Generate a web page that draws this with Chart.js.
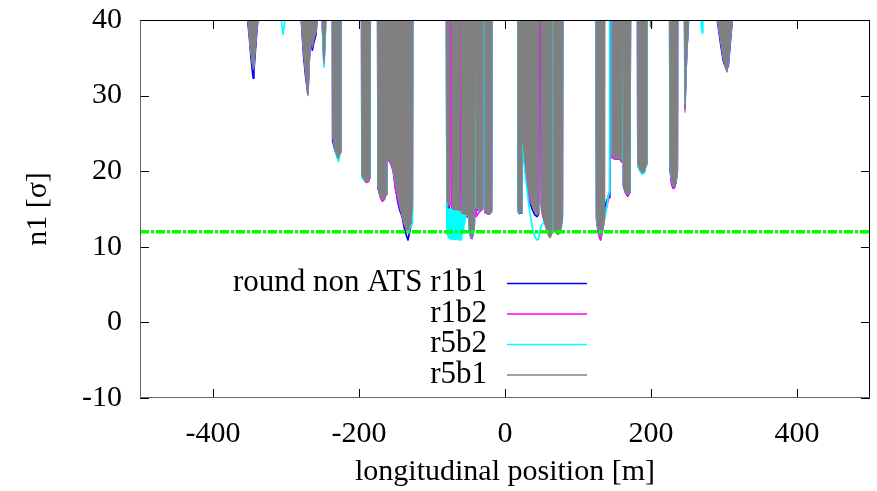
<!DOCTYPE html>
<html>
<head>
<meta charset="utf-8">
<script src="https://cdn.jsdelivr.net/npm/chart.js@4.4.1/dist/chart.umd.min.js"></script>
<style>
  html, body { margin: 0; padding: 0; background: #fff; }
  #wrap { width: 877px; height: 491px; }
</style>
</head>
<body>
<div id="wrap"><canvas id="chart" width="877" height="491"></canvas></div>
<script>
const xTicks = [-400, -200, 0, 200, 400];
const yTicks = [-10, 0, 10, 20, 30, 40];
const seriesNames = ['round non ATS r1b1', 'r1b2', 'r5b2', 'r5b1'];
const seriesColors = ['#0000ff', '#ff00ff', '#00ffff', '#808080'];
const limitLevel = 12;

// longitudinal position [m]; n1 values of 80 sit above the frame
const pos = [
  -356,
  -353, -350, -348, -346, -345, -344, -342, -340, -338, -336,
  -307, -306, -304, -302, -301,
  -281, -279, -276, -273, -270, -268, -266, -264, -262, -259, -257, -255,
  -251, -250, -248, -246, -245,
  -237, -236, -233, -230, -228, -226, -225,
  -197, -196, -193, -190, -187, -185, -184,
  -175, -174, -171, -168, -165, -163, -162, -158, -155, -153, -150, -147, -144, -141, -138, -135, -133, -131, -129, -127, -126,
  -81, -79.5, -78.5, -77.5, -76.5, -75.5, -74.5, -73.5, -72.5, -71.5,
  -70.5, -69.5, -68.5, -67.5, -66.5, -65.5, -64.5, -63.5, -62.5, -61.5,
  -60.5, -59.5, -58.5, -57.5, -56.5, -55.5, -54, -52, -51, -50.5,
  -49.5, -48, -46.5, -45, -43.5, -42, -41, -40, -39.5, -36,
  -33, -30.5, -29.5, -28, -27, -24, -21, -18.5, -17.5,
  17, 18, 20, 22, 23, 26, 29, 32, 35, 38, 41, 44, 46, 47.5, 48.5, 50, 52, 55, 58, 60, 62, 64, 65, 66.5, 67, 70, 73, 75, 77, 78.5, 79.5,
  124, 125.5, 127.5, 129.5, 131, 133, 135, 136.5, 137.5, 139, 141, 142.5, 143.5, 144.5,
  146.5, 147, 150, 154, 157, 160, 160.8, 161.6, 162.4, 165, 168, 171, 173,
  181, 182, 185, 188, 191, 193.5, 194.5,
  198, 199, 201, 202,
  225, 226, 228, 230, 232, 234, 236, 237,
  245, 246.5, 247.5, 249, 251, 253,
  268, 269, 270, 271, 272,
  288, 290, 293, 296, 299, 302, 304, 306, 308, 310, 312, 314,
  330
];

const r5b1 = [
  80,
  41, 38, 35.8, 34.2, 33.5, 34.2, 36.5, 39, 41, 80,
  80, 80, 80, 80, 80,
  80, 40.5, 36, 33, 30, 35, 38, 36.4, 37.5, 38.3, 41, 80,
  80, 39, 34.2, 39, 80,
  80, 25, 23, 22, 21.7, 22.5, 80,
  80, 19.5, 18.9, 18.6, 18.7, 19.2, 80,
  80, 18, 16.8, 16.2, 16.4, 17, 21.7, 21.5, 20.8, 20.3, 18.5, 17, 15.5, 14.2, 13, 12.3, 12, 12.5, 13.5, 15, 80,
  80, 16, 15.8, 15.7, 15.6, 15.6, 80, 80, 15.2, 15,
  14.9, 14.9, 14.9, 14.9, 14.9, 14.9, 14.9, 14.8, 14.8, 80,
  80, 14.5, 14.4, 14.4, 14.4, 14.4, 14.3, 14.2, 80, 80,
  13, 12, 11.4, 11.2, 11.6, 12.5, 80, 80, 15, 14.9,
  14.9, 15, 80, 80, 14.6, 14.4, 14.4, 14.6, 80,
  80, 14.8, 14.5, 14.6, 26, 22.5, 19.8, 17.8, 16.4, 15.3, 14.6, 14.2, 14.4, 80, 80, 15, 14, 13, 12, 11.4, 11.2, 11.8, 80, 80, 12.2, 11.8, 11.6, 11.8, 12.5, 13.5, 80,
  80, 14, 12.5, 11.6, 11.3, 11.8, 12.8, 13.8, 80, 80, 80, 80, 80, 80,
  80, 22, 21.7, 21.7, 21.7, 21.3, 80, 80, 18, 17.3, 16.9, 17.2, 80,
  80, 21, 20.2, 19.8, 20, 21, 80,
  80, 39.2, 39, 80,
  80, 21, 19, 18.1, 17.9, 18.5, 20, 80,
  80, 27.8, 32, 36, 39, 80,
  80, 80, 80, 80, 80,
  80, 41, 39, 37, 35, 33.8, 33.1, 34.5, 37, 39, 41, 80,
  80
];

const r5b2 = [
  80,
  41.5, 38.3, 36, 34.5, 34, 34.5, 37, 39.5, 41, 80,
  80, 39.6, 38.1, 39.6, 80,
  80, 41, 36.5, 33.5, 30.6, 35.5, 38.5, 37, 38, 38.8, 41, 80,
  80, 38.8, 33.8, 38.8, 80,
  80, 25.5, 23, 21.8, 21.3, 22.5, 80,
  80, 19.2, 18.8, 18.7, 18.9, 19.4, 80,
  80, 18.2, 16.9, 16.4, 16.6, 17.2, 21.8, 21.6, 21, 20.5, 18.6, 17.2, 15.8, 14.5, 13.2, 12.5, 12.2, 12.3, 12.8, 13, 80,
  80, 11.6, 15, 11.2, 15, 11.1, 15, 11, 15, 11,
  14.9, 11, 14.9, 11, 14.9, 11, 14.9, 10.9, 14.8, 10.9,
  14.4, 11, 14.4, 11.8, 14.4, 13, 14.2, 14.2, 80, 80,
  12.2, 11.5, 11.3, 11.4, 11.8, 12.6, 80, 80, 15.2, 15,
  15, 15.2, 80, 80, 14.8, 14.6, 14.6, 14.8, 80,
  80, 14.6, 14.5, 14.6, 25.8, 21.5, 18.5, 16, 14, 12.3, 11.3, 10.9, 11, 12, 12.4, 12.8, 13.1, 13.4, 12.4, 11.8, 11.6, 12, 80, 80, 12.4, 12, 11.8, 12, 12.6, 13.5, 80,
  80, 14, 12.5, 11.7, 11.4, 12, 13, 14, 14.2, 15, 16.5, 17.2, 80, 80,
  80, 22.2, 21.8, 21.8, 21.8, 21.5, 80, 80, 18.2, 17.4, 17, 17.4, 80,
  80, 20.8, 20, 19.6, 19.8, 20.8, 80,
  80, 80, 80, 80,
  80, 21, 19.2, 18.3, 18.1, 18.7, 20.2, 80,
  80, 29, 32.5, 36.5, 39.5, 80,
  80, 39.2, 38.3, 39.2, 80,
  80, 41, 39.2, 37.2, 35.3, 34, 33.5, 34.7, 37.2, 39.2, 41, 80,
  80
];

const r1b2 = [
  80,
  41, 38, 35.8, 34.2, 33.8, 34.3, 36.5, 39, 41, 80,
  80, 80, 80, 80, 80,
  80, 40.5, 36, 33, 30.2, 35, 38, 36.5, 37.5, 38.5, 41, 80,
  80, 39, 34.4, 39, 80,
  80, 24.5, 23, 22, 21.8, 22.5, 80,
  80, 19.3, 18.9, 18.5, 18.6, 19.2, 80,
  80, 17.9, 16.6, 16, 16.3, 17, 21.5, 21.3, 20.6, 20, 17.6, 16.4, 15.2, 14.2, 13, 12.3, 12, 12.5, 13.5, 15, 80,
  80, 15.8, 15.6, 15.6, 15.5, 15.4, 80, 80, 15.2, 15,
  14.9, 14.9, 14.9, 14.9, 14.9, 14.9, 14.9, 14.8, 14.8, 80,
  80, 14.4, 14.4, 14.4, 14.3, 14.2, 14.2, 14, 80, 80,
  12.8, 11.6, 11.2, 11.1, 12, 13.5, 80, 80, 14, 14.5,
  14.8, 15, 80, 80, 14.6, 14.4, 14.4, 14.6, 80,
  80, 14.8, 14.5, 14.6, 25.5, 21.5, 19, 16.8, 15.8, 15.8, 15.4, 15.6, 15.9, 80, 80, 15, 14, 13, 12, 11.6, 11.4, 11.8, 80, 80, 12.6, 12.2, 12.4, 12.8, 13.2, 14, 80,
  80, 13.5, 12, 11.2, 10.9, 11.8, 13, 14, 14.5, 15.2, 16, 17, 80, 80,
  80, 21.8, 21.6, 21.6, 21.6, 21.2, 80, 80, 18, 17.2, 16.8, 17.2, 80,
  80, 20.8, 20.1, 19.8, 20, 21, 80,
  80, 80, 80, 80,
  80, 20.8, 18.6, 17.8, 17.9, 18.5, 20, 80,
  80, 28.2, 32, 36, 39, 80,
  80, 80, 80, 80, 80,
  80, 41, 39, 37, 35, 33.9, 33.3, 34.5, 37, 39, 41, 80,
  80
];

const r1b1 = [
  80,
  40.5, 37.5, 35, 33.2, 32.3, 33.2, 35.8, 38.5, 40.5, 80,
  80, 80, 80, 80, 80,
  80, 40, 35.3, 32.4, 30.3, 35, 37.8, 36, 37, 38, 41, 80,
  80, 39, 34.4, 39, 80,
  80, 24, 22.8, 22, 21.8, 22.5, 80,
  80, 19.4, 18.9, 18.6, 18.8, 19.2, 80,
  80, 17.8, 16.8, 16.3, 16.5, 17, 21.7, 21.5, 20.8, 20, 17.8, 16, 14.8, 14, 12.5, 11.5, 10.9, 11.8, 12.8, 14, 80,
  80, 15.6, 12.5, 15, 15, 15, 80, 80, 15, 14.8,
  14.8, 14.7, 14.7, 14.7, 14.7, 14.7, 14.7, 14.7, 14.7, 80,
  80, 14.4, 14.3, 14.3, 14.3, 14.3, 14.2, 14, 80, 80,
  12.5, 11.5, 11.2, 11.4, 12, 13, 80, 80, 14.8, 14.9,
  15, 15.2, 80, 80, 14.5, 14.4, 14.4, 14.8, 80,
  80, 14.6, 14.4, 14.5, 25.5, 22, 19.2, 17, 15.6, 14.8, 14.2, 14, 14.3, 80, 80, 15.5, 14.5, 13.5, 12.3, 11.8, 11.6, 12, 80, 80, 12.6, 12, 11.9, 12.2, 13, 14, 80,
  80, 13.8, 12.3, 11.5, 11.3, 12, 13.5, 15, 15.6, 16, 16.5, 17, 16.5, 80,
  80, 21.8, 21.7, 21.7, 21.7, 21.3, 80, 80, 18, 17.2, 16.7, 17.2, 80,
  80, 20.8, 20.1, 19.8, 20, 21, 80,
  80, 80, 80, 80,
  80, 20.5, 18.5, 17.8, 17.8, 18.5, 20, 80,
  80, 28.5, 32, 36, 39, 80,
  80, 80, 80, 80, 80,
  80, 40.5, 38.5, 36.4, 34.6, 33.8, 33.6, 34, 36.3, 38.6, 40.5, 80,
  80
];

const serif = "'Liberation Serif', 'DejaVu Serif', serif";
const toPoints = vals => pos.map((x, i) => ({x: x, y: vals[i]}));

const frame = {
    id: 'frame',
    afterDraw(chart) {
        const {ctx, chartArea: a, scales} = chart;
        const x = scales.x, y = scales.y;
        const seg = (x1, y1, x2, y2) => { ctx.beginPath(); ctx.moveTo(x1, y1); ctx.lineTo(x2, y2); ctx.stroke(); };
        ctx.save();
        ctx.lineWidth = 1;
        ctx.strokeStyle = '#000';
        // inward ticks on all four sides
        xTicks.forEach(v => {
            const px = Math.round(x.getPixelForValue(v)) + 0.5;
            seg(px, a.bottom, px, a.bottom - 9);
            seg(px, a.top, px, a.top + 9);
        });
        yTicks.forEach(v => {
            const py = Math.round(y.getPixelForValue(v)) + 0.5;
            seg(a.left, py, a.left + 9, py);
            seg(a.right, py, a.right - 9, py);
        });
        // border
        const l = Math.round(a.left) + 0.5, r = Math.round(a.right) - 0.5;
        const t = Math.round(a.top) + 0.5, b = Math.round(a.bottom) - 0.5;
        seg(l, t, r, t);
        seg(r, t, r, b);
        ctx.strokeStyle = '#666';
        seg(l, t, l, b);
        seg(l, b, r, b);
        // legend
        ctx.font = '31px ' + serif;
        ctx.fillStyle = '#000';
        ctx.textAlign = 'right';
        ctx.textBaseline = 'middle';
        seriesNames.forEach((name, i) => {
            const ry = 283 + i * 30.5;
            ctx.fillText(name, 487, ry);
            ctx.strokeStyle = seriesColors[i];
            ctx.lineWidth = 1.6;
            seg(507, ry + 0.5, 587, ry + 0.5);
        });
        ctx.restore();
    }
};

const lineSet = (label, vals, color, width, order, fill) => ({
    label: label,
    data: toPoints(vals),
    borderColor: color,
    backgroundColor: color,
    borderWidth: width,
    borderJoinStyle: 'round',
    pointRadius: 0,
    tension: 0,
    fill: fill ? 'end' : false,
    clip: 0,
    order: order
});

new Chart(document.getElementById('chart'), {
    type: 'line',
    data: {
        datasets: [
            {
                label: 'limit',
                data: [{x: -500, y: limitLevel}, {x: 500, y: limitLevel}],
                borderColor: '#00ff00',
                borderWidth: 3.5,
                borderDash: [9, 2, 3, 2],
                pointRadius: 0,
                fill: false,
                clip: 0,
                order: 0
            },
            lineSet(seriesNames[3], r5b1, seriesColors[3], 1.2, 1, true),
            lineSet(seriesNames[2], r5b2, seriesColors[2], 1.7, 2, false),
            lineSet(seriesNames[1], r1b2, seriesColors[1], 1.7, 3, false),
            lineSet(seriesNames[0], r1b1, seriesColors[0], 1.7, 4, false)
        ]
    },
    options: {
        responsive: false,
        animation: false,
        layout: {padding: {top: 20, right: 7, left: 0, bottom: 0}},
        plugins: {legend: {display: false}, tooltip: {enabled: false}},
        scales: {
            x: {
                type: 'linear',
                min: -500,
                max: 500,
                afterBuildTicks: s => { s.ticks = xTicks.map(v => ({value: v})); },
                afterFit: s => { s.height = 93; s.paddingLeft = 0; s.paddingRight = 0; },
                grid: {display: false, drawTicks: false},
                border: {display: false},
                ticks: {color: '#000', font: {family: serif, size: 30}, padding: 18, maxRotation: 0},
                title: {display: true, text: 'longitudinal position [m]', color: '#000',
                        font: {family: serif, size: 30}, padding: {top: 0, bottom: 1}}
            },
            y: {
                type: 'linear',
                min: -10,
                max: 40,
                afterBuildTicks: s => { s.ticks = yTicks.map(v => ({value: v})); },
                afterFit: s => { s.width = 140; s.paddingTop = 0; s.paddingBottom = 0; },
                grid: {display: false, drawTicks: false},
                border: {display: false},
                ticks: {color: '#000', font: {family: serif, size: 30}, padding: 18},
                title: {display: true, text: 'n1 [σ]', color: '#000',
                        font: {family: serif, size: 30}, padding: {top: 20, bottom: 0}}
            }
        }
    },
    plugins: [frame]
});
</script>
</body>
</html>
